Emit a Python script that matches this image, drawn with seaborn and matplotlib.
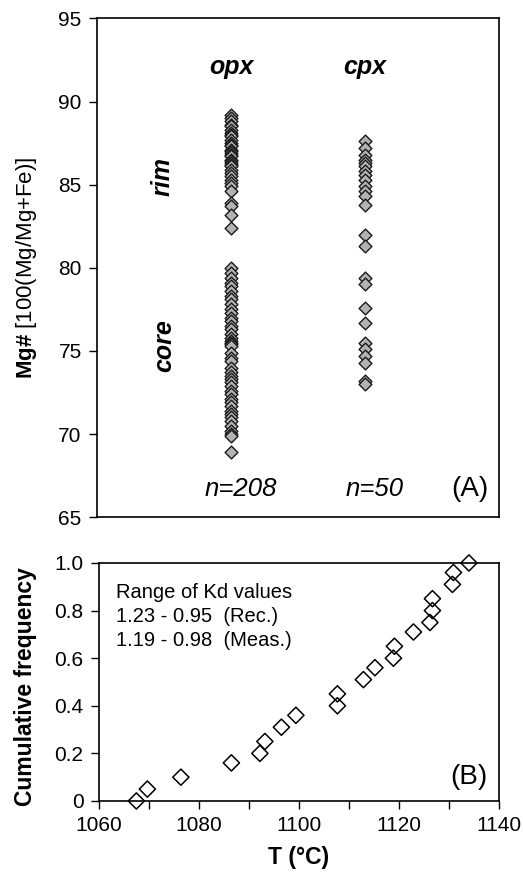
import matplotlib
matplotlib.use("Agg")
import matplotlib.pyplot as plt
import seaborn as sns
import pandas as pd

# ---------------- data ----------------
opx_rim = [89.2, 89.0, 88.8, 88.6, 88.5, 88.3, 88.1, 88.0, 87.9, 87.7, 87.5, 87.4,
           87.3, 87.1, 87.0, 86.9, 86.8, 86.7, 86.5, 86.4, 86.3, 86.2, 86.1, 85.9,
           85.7, 85.5, 85.3, 85.1, 84.9, 84.6, 83.9, 83.7, 83.2, 82.4]
opx_core = [80.0, 79.7, 79.4, 79.1, 78.9, 78.6, 78.3, 78.1, 77.8, 77.5, 77.3, 77.0,
            76.8, 76.5, 76.3, 76.0, 75.8, 75.6, 75.5, 75.4, 75.3, 74.9, 74.6, 74.4,
            74.0, 73.7, 73.5, 73.3, 73.1, 72.9, 72.6, 72.4, 72.1, 71.9, 71.7, 71.4,
            71.2, 71.0, 70.8, 70.5, 70.2, 70.0, 69.9, 68.9]
cpx_vals = [87.6, 87.2, 86.8, 86.5, 86.3, 86.1, 85.8, 85.6, 85.3, 84.9, 84.6, 84.3,
            83.8, 82.0, 81.3, 79.4, 79.0, 77.6, 76.7, 75.5, 75.1, 74.7, 74.3, 73.2, 73.0]
minerals = ["opx", "cpx"]
n_labels = ["n=208", "n=50"]

temps = [1067.5, 1069.7, 1076.4, 1086.5, 1092.2, 1093.2, 1096.5, 1099.4, 1107.7, 1107.7,
         1112.9, 1115.2, 1118.9, 1119.1, 1122.9, 1126.2, 1126.7, 1126.7, 1130.7, 1130.9, 1134.0]
cumfreq = [0.0, 0.05, 0.10, 0.16, 0.20, 0.25, 0.31, 0.36, 0.40, 0.45,
           0.51, 0.56, 0.60, 0.65, 0.71, 0.75, 0.80, 0.85, 0.91, 0.96, 1.0]
kd_lines = ["Range of Kd values", "1.23 - 0.95  (Rec.)", "1.19 - 0.98  (Meas.)"]

# ---------------- style ----------------
sns.set_style("ticks")
plt.rcParams['font.family'] = ['Liberation Sans', 'DejaVu Sans']
plt.rcParams['mathtext.fontset'] = 'custom'
plt.rcParams['mathtext.rm'] = 'Liberation Sans'
plt.rcParams['mathtext.bf'] = 'Liberation Sans:bold'
for key in ['text.color', 'axes.labelcolor', 'xtick.color', 'ytick.color', 'axes.edgecolor']:
    plt.rcParams[key] = 'black'
plt.rcParams['axes.linewidth'] = 1.2
plt.rcParams['xtick.major.width'] = 1.0
plt.rcParams['ytick.major.width'] = 1.0
plt.rcParams['xtick.minor.width'] = 1.0

fig = plt.figure(figsize=(5.23, 8.75), dpi=100)
axA = fig.add_axes([0.1855, 0.409, 0.7685, 0.570])
axB = fig.add_axes([0.189, 0.0846, 0.765, 0.272])

# ---------------- panel A ----------------
dfA = pd.DataFrame({
    "mineral": ["opx"] * (len(opx_rim) + len(opx_core)) + ["cpx"] * len(cpx_vals),
    "mg": opx_rim + opx_core + cpx_vals,
})
sns.stripplot(data=dfA, x="mineral", y="mg", order=minerals, jitter=False,
              marker="D", size=6.5, color="#b3b3b3", edgecolor="#1a1a1a",
              linewidth=1.0, ax=axA)
axA.set_xlim(-1, 2)
axA.set_ylim(65, 95)
axA.set_yticks([65, 70, 75, 80, 85, 90, 95])
axA.set_xticks([])
axA.set_xlabel("")
axA.set_ylabel(r"$\mathbf{Mg\#}$ [100(Mg/Mg+Fe)]", fontsize=16)
axA.yaxis.set_label_coords(-0.145, 0.5)
axA.tick_params(axis='y', labelsize=15, length=6, pad=5, direction='out')
for s in axA.spines.values():
    s.set_visible(True)

for i, (m, nl) in enumerate(zip(minerals, n_labels)):
    axA.text(i, 92.1, m, ha='center', va='center', fontsize=18,
             fontweight='bold', fontstyle='italic')
    axA.text(i + 0.07, 66.7, nl, ha='center', va='center', fontsize=18.5,
             fontstyle='italic')
axA.text(-0.51, 85.5, "rim", rotation=90, ha='center', va='center', fontsize=18,
         fontweight='bold', fontstyle='italic')
axA.text(-0.50, 75.3, "core", rotation=90, ha='center', va='center', fontsize=18,
         fontweight='bold', fontstyle='italic')
axA.text(1.78, 66.7, "(A)", ha='center', va='center', fontsize=20)

# ---------------- panel B ----------------
dfB = pd.DataFrame({"T": temps, "F": cumfreq})
sns.scatterplot(data=dfB, x="T", y="F", marker="D", s=68, facecolor="none",
                edgecolor="black", linewidth=1.1, ax=axB, clip_on=False, zorder=5)
axB.set_xlim(1060, 1140)
axB.set_ylim(0, 1.0)
axB.set_xticks([1060, 1080, 1100, 1120, 1140])
axB.set_xticks(list(range(1070, 1140, 20)), minor=True)
axB.set_yticks([0, 0.2, 0.4, 0.6, 0.8, 1.0])
axB.set_yticklabels(["0", "0.2", "0.4", "0.6", "0.8", "1.0"])
axB.tick_params(axis='both', which='major', labelsize=15, length=6, pad=5, direction='out')
axB.tick_params(axis='x', which='minor', length=6, direction='out')
axB.set_xlabel("T (°C)", fontsize=16.5, fontweight='bold')
axB.xaxis.set_label_coords(0.5, -0.19)
axB.set_ylabel("Cumulative frequency", fontsize=16.5, fontweight='bold')
axB.yaxis.set_label_coords(-0.155, 0.48)
for s in axB.spines.values():
    s.set_visible(True)

for j, line in enumerate(kd_lines):
    axB.text(0.042, 0.875 - j * 0.10, line, transform=axB.transAxes,
             ha='left', va='center', fontsize=14.5)
axB.text(0.926, 0.102, "(B)", transform=axB.transAxes, ha='center', va='center',
         fontsize=20)

fig.savefig("out.png", dpi=100)
